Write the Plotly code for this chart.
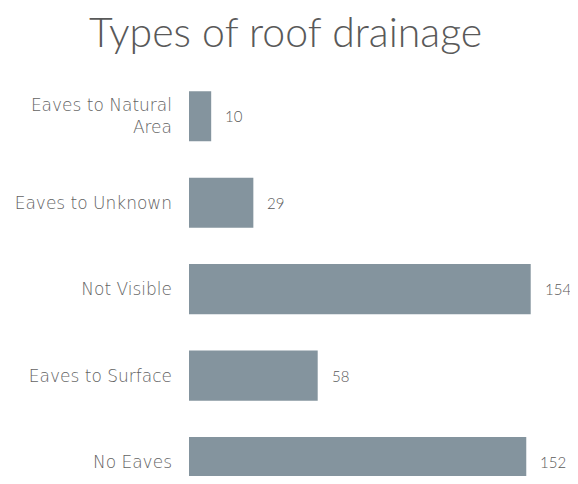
import plotly.graph_objects as go

categories = ["Eaves to Natural<br>Area", "Eaves to Unknown", "Not Visible", "Eaves to Surface", "No Eaves"]
values = [10, 29, 154, 58, 152]
title_text = "Types of roof drainage"

bar_color = "#84949E"
text_color = "#595959"
title_font = "Lato, 'Open Sans', sans-serif"
label_font = "'DejaVu Sans', sans-serif"

fig = go.Figure()
fig.add_trace(go.Bar(
    y=categories,
    x=values,
    orientation="h",
    marker=dict(color=bar_color, line=dict(width=0)),
    width=0.58,
    hoverinfo="skip",
))

for c, v in zip(categories, values):
    fig.add_annotation(
        x=v, y=c, xref="x", yref="y",
        text=str(v), showarrow=False,
        xanchor="left", yanchor="middle", xshift=12,
        font=dict(family=title_font, size=15, color=text_color, weight=300),
    )

fig.update_layout(
    width=570, height=468,
    margin=dict(l=181, r=20, t=65, b=0),
    paper_bgcolor="white", plot_bgcolor="white",
    showlegend=False,
    title=dict(
        text=title_text, x=0.487, xanchor="center", y=0.978, yanchor="top",
        font=dict(family=title_font, size=41, color=text_color, weight=300),
    ),
    xaxis=dict(range=[0, 166.3], visible=False, fixedrange=True),
    yaxis=dict(
        type="category",
        categoryorder="array", categoryarray=categories,
        range=[4.16, -0.5],
        showgrid=False, zeroline=False, showline=False,
        ticks="", ticklabelstandoff=16,
        tickfont=dict(family=label_font, size=17, color="#636363", weight=300),
        fixedrange=True,
    ),
)

fig.write_html("out.html")
